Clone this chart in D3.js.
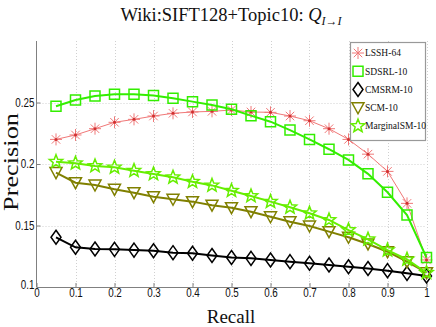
<!DOCTYPE html>
<html>
<head>
<meta charset="utf-8">
<script src="https://cdn.jsdelivr.net/npm/d3@7"></script>
<style>
  body { margin: 0; background: #fff; }
  svg { display: block; }
</style>
</head>
<body>
<svg id="chart" width="436" height="327"></svg>
<script>
const recall = [0.05,0.1,0.15,0.2,0.25,0.3,0.35,0.4,0.45,0.5,0.55,0.6,0.65,0.7,0.75,0.8,0.85,0.9,0.95,1.0];
const lssh = [0.220,0.2236,0.2287,0.2339,0.2363,0.239,0.2412,0.2423,0.2428,0.2439,0.2423,0.242,0.239,0.2352,0.2287,0.220,0.208,0.194,0.168,0.122];
const sdsrl = [0.247,0.252,0.2553,0.2567,0.2567,0.2556,0.2534,0.2507,0.248,0.2445,0.2393,0.2344,0.2276,0.220,0.212,0.2033,0.192,0.177,0.1585,0.124];
const cmsrm = [0.1404,0.1323,0.1309,0.1306,0.130,0.1295,0.1279,0.1274,0.1256,0.124,0.1233,0.122,0.1206,0.1193,0.1179,0.1165,0.115,0.1133,0.1111,0.109];
const scm = [0.193,0.1848,0.1829,0.1794,0.1767,0.1734,0.1713,0.1694,0.1665,0.1645,0.1612,0.1571,0.153,0.1496,0.145,0.1404,0.135,0.1287,0.1206,0.1116];
const marginal = [0.2019,0.2006,0.1984,0.1973,0.1946,0.1919,0.1892,0.1856,0.1826,0.1783,0.174,0.1694,0.1648,0.160,0.1545,0.1463,0.1388,0.130,0.1225,0.1116];

const seriesNames = ["LSSH-64","SDSRL-10","CMSRM-10","SCM-10","MarginalSM-10"];
const xTicks = [0,0.1,0.2,0.3,0.4,0.5,0.6,0.7,0.8,0.9,1];
const yTicks = [0.1,0.15,0.2,0.25];

const series = [
  {name: seriesNames[0], values: lssh, color: "#f07878", width: 1, marker: "asterisk"},
  {name: seriesNames[1], values: sdsrl, color: "#33ee00", width: 2, marker: "square"},
  {name: seriesNames[2], values: cmsrm, color: "#000000", width: 2, marker: "diamond"},
  {name: seriesNames[3], values: scm, color: "#808000", width: 2, marker: "triangle"},
  {name: seriesNames[4], values: marginal, color: "#66ee00", width: 2, marker: "star"}
];

const svg = d3.select("#chart");
const mLeft = 36.5, mRight = 426.5, mTop = 41, mBottom = 287;

const x = d3.scaleLinear().domain([0, 1]).range([mLeft, mRight]);
const y = d3.scaleLinear().domain([0.1, 0.3]).range([mBottom, mTop]);

// marker paths centred at 0,0
function markerPath(type) {
  if (type === "asterisk") {
    const r = 6, d = r * 0.707;
    return `M${-r},0L${r},0M0,${-r}L0,${r}M${-d},${-d}L${d},${d}M${-d},${d}L${d},${-d}`;
  }
  if (type === "square") return "M-5,-5L5,-5L5,5L-5,5Z";
  if (type === "diamond") return "M0,-7L5,0L0,7L-5,0Z";
  if (type === "triangle") return "M-6,-5L6,-5L0,6Z";
  if (type === "star") {
    let p = "";
    for (let i = 0; i < 10; i++) {
      const r = i % 2 === 0 ? 7 : 3;
      const a = -Math.PI / 2 + i * Math.PI / 5;
      p += (i ? "L" : "M") + (r * Math.cos(a)).toFixed(2) + "," + (r * Math.sin(a)).toFixed(2);
    }
    return p + "Z";
  }
}

// grid
const grid = svg.append("g")
  .attr("stroke", "#d0d0d0")
  .attr("stroke-dasharray", "1,2")
  .attr("stroke-width", 1);
grid.selectAll("line.gx").data(xTicks.slice(1)).join("line")
  .attr("x1", d => Math.round(x(d)) + 0.5).attr("x2", d => Math.round(x(d)) + 0.5)
  .attr("y1", mTop).attr("y2", mBottom);
grid.selectAll("line.gy").data(yTicks.slice(1)).join("line")
  .attr("x1", mLeft).attr("x2", mRight)
  .attr("y1", d => Math.round(y(d)) + 0.5).attr("y2", d => Math.round(y(d)) + 0.5);

// axes (ticks inward)
const xAxis = d3.axisBottom(x).tickValues(xTicks).tickSizeInner(-4).tickSizeOuter(0)
  .tickFormat(d => d3.format("")(d));
const yAxis = d3.axisLeft(y).tickValues(yTicks).tickSizeInner(-4).tickSizeOuter(0)
  .tickFormat(d => d3.format("")(d));

const gx = svg.append("g").attr("transform", `translate(0,${mBottom})`).call(xAxis);
const gy = svg.append("g").attr("transform", `translate(${mLeft},0)`).call(yAxis);
gy.select(".domain").attr("d", `M0,${mBottom}V${mTop}`);
[gx, gy].forEach(g => {
  g.select(".domain").attr("stroke", "#808080");
  g.selectAll(".tick line").attr("stroke", "#808080");
  g.selectAll(".tick text")
    .attr("font-family", "'Liberation Sans', Arial, sans-serif")
    .attr("font-size", 12).attr("fill", "#111")
    .attr("transform", "scale(0.82,1)");
});
gx.selectAll(".tick text").attr("dy", "0.5em").attr("y", 4);
gy.selectAll(".tick text").attr("x", -2 / 0.82);
gy.selectAll(".tick").filter(d => d === 0.1).select("text").attr("dy", "0.1em");

// lines and markers
const line = d3.line().x((d, i) => x(recall[i])).y(d => y(d));
series.forEach(s => {
  const g = svg.append("g");
  g.append("path")
    .attr("d", line(s.values))
    .attr("fill", "none")
    .attr("stroke", s.color)
    .attr("stroke-width", s.width);
  g.selectAll("path.m").data(s.values).join("path")
    .attr("class", "m")
    .attr("transform", (d, i) => `translate(${x(recall[i])},${y(d)})`)
    .attr("d", markerPath(s.marker))
    .attr("fill", "none")
    .attr("stroke", s.color)
    .attr("stroke-width", s.marker === "asterisk" ? 1 : 1.5);
  if (s.marker === "asterisk") {
    g.selectAll("circle").data(s.values).join("circle")
      .attr("cx", (d, i) => x(recall[i])).attr("cy", d => y(d))
      .attr("r", 1.5).attr("fill", "#d03030");
  }
});

// legend
const legend = svg.append("g");
legend.append("rect")
  .attr("x", 350.5).attr("y", 42.5).attr("width", 75).attr("height", 98)
  .attr("fill", "#fff").attr("stroke", "#999").attr("stroke-width", 1.2);
const legY = d3.scalePoint().domain(seriesNames).range([53, 126]);
series.forEach(s => {
  legend.append("path")
    .attr("transform", `translate(358,${legY(s.name)})`)
    .attr("d", markerPath(s.marker))
    .attr("fill", "none").attr("stroke", s.color)
    .attr("stroke-width", s.marker === "asterisk" ? 1 : 1.5);
  legend.append("text")
    .attr("x", 365).attr("y", legY(s.name)).attr("dy", "0.35em")
    .attr("font-family", "'Liberation Serif', serif")
    .attr("font-size", 9.5).attr("fill", "#111")
    .text(s.name);
});

// title
const title = svg.append("text")
  .attr("x", 231).attr("y", 21)
  .attr("text-anchor", "middle")
  .attr("font-family", "'Liberation Serif', 'DejaVu Serif', serif")
  .attr("font-size", 18.5).attr("fill", "#111");
title.append("tspan").text("Wiki:SIFT128+Topic10:  ");
title.append("tspan").attr("font-style", "italic").text("Q");
title.append("tspan").attr("font-style", "italic").attr("font-size", 12).attr("dy", 4).text("I→I");

// axis labels
svg.append("text")
  .attr("x", 231).attr("y", 323)
  .attr("text-anchor", "middle")
  .attr("font-family", "'Liberation Serif', serif")
  .attr("font-size", 19).attr("fill", "#111")
  .text("Recall");
svg.append("text")
  .attr("transform", "translate(18,162) rotate(-90)")
  .attr("text-anchor", "middle")
  .attr("font-family", "'Liberation Serif', serif")
  .attr("font-size", 21).attr("fill", "#111")
  .attr("textLength", 98).attr("lengthAdjust", "spacingAndGlyphs")
  .text("Precision");
</script>
</body>
</html>
